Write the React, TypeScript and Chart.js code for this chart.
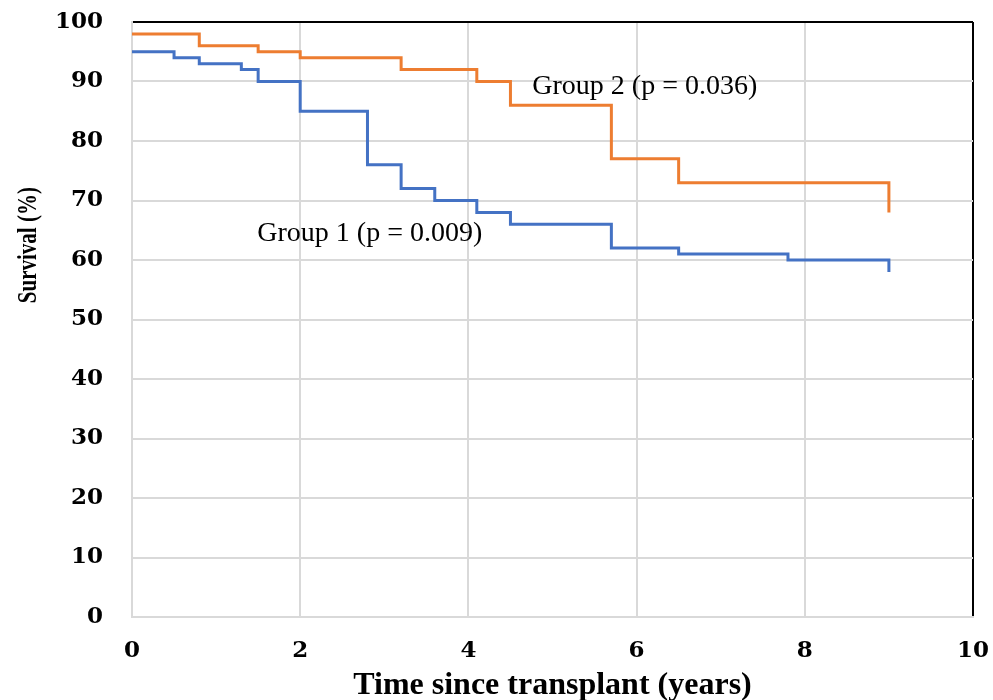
import React, { useEffect, useRef } from "react";
import { Chart, registerables } from "chart.js";

Chart.register(...registerables);

// Group 1 (blue) Kaplan-Meier steps
const group1Times = [0, 0.5, 0.8, 1.3, 1.5, 2.0, 2.8, 3.2, 3.6, 4.1, 4.5, 5.7, 6.5, 7.8, 9.0];
const group1Survival = [95, 94, 93, 92, 90, 85, 76, 72, 70, 68, 66, 62, 61, 60, 58];

// Group 2 (orange) Kaplan-Meier steps
const group2Times = [0, 0.8, 1.5, 2.0, 3.2, 4.1, 4.5, 5.7, 6.5, 9.0];
const group2Survival = [98, 96, 95, 94, 92, 90, 86, 77, 73, 68];

const seriesNames = ["Group 1", "Group 2"];
const annotationTexts = ["Group 1 (p = 0.009)", "Group 2 (p = 0.036)"];
// label anchor positions in data units [x, y]
const annotationAnchors = [
  [1.49, 64.5],
  [4.76, 89.1],
];

const xTicks = [0, 2, 4, 6, 8, 10];
const yTicks = [0, 10, 20, 30, 40, 50, 60, 70, 80, 90, 100];
const xTitle = "Time since transplant (years)";
const yTitle = "Survival (%)";

const BLUE = "#4472C4";
const ORANGE = "#ED7D31";
const GRID = "#D9D9D9";

export default function App() {
  const ref = useRef<HTMLCanvasElement | null>(null);

  useEffect(() => {
    document.body.style.margin = "0";
    document.body.style.overflow = "hidden";
    const canvas = ref.current;
    if (!canvas) return;

    const labelPlugin = {
      id: "groupLabels",
      afterDatasetsDraw(chart: any) {
        const { ctx, scales } = chart;
        ctx.save();
        ctx.fillStyle = "#000";
        ctx.font = "28px 'Liberation Serif', serif";
        ctx.textAlign = "left";
        ctx.textBaseline = "middle";
        annotationTexts.forEach((t, i) => {
          const x = scales.x.getPixelForValue(annotationAnchors[i][0]);
          const y = scales.y.getPixelForValue(annotationAnchors[i][1]);
          ctx.fillText(t, x, y);
        });
        // y-axis title (placed above the axis centre, as in the source)
        ctx.translate(29, scales.y.getPixelForValue(62.5));
        ctx.rotate(-Math.PI / 2);
        ctx.scale(1, 1.3);
        ctx.textAlign = "center";
        ctx.font = "bold 21px 'Liberation Serif', serif";
        ctx.fillText(yTitle, 0, 0);
        ctx.restore();
      },
    };

    const chart = new Chart(canvas, {
      type: "line",
      data: {
        datasets: [
          {
            label: seriesNames[0],
            data: group1Times.map((t, i) => ({ x: t, y: group1Survival[i] })),
            borderColor: BLUE,
            backgroundColor: BLUE,
            borderWidth: 3,
            pointRadius: 0,
            stepped: "before",
            fill: false,
          },
          {
            label: seriesNames[1],
            data: group2Times.map((t, i) => ({ x: t, y: group2Survival[i] })),
            borderColor: ORANGE,
            backgroundColor: ORANGE,
            borderWidth: 3,
            pointRadius: 0,
            stepped: "before",
            fill: false,
          },
        ],
      },
      options: {
        responsive: false,
        animation: false,
        layout: { padding: { top: 22, right: 20, left: 0, bottom: 0 } },
        plugins: {
          legend: { display: false },
          tooltip: { enabled: false },
        },
        scales: {
          x: {
            type: "linear",
            min: 0,
            max: 10,
            afterBuildTicks: (scale: any) => {
              scale.ticks = xTicks.map((v) => ({ value: v }));
            },
            afterFit: (scale: any) => {
              scale.height = 83;
              scale.paddingLeft = 0;
              scale.paddingRight = 0;
            },
            grid: {
              drawTicks: false,
              lineWidth: 2,
              color: (c: any) => (c.tick && c.tick.value === 10 ? "#000" : GRID),
            },
            border: { display: true, color: GRID, width: 2 },
            ticks: {
              padding: 20,
              color: "#000",
              font: { family: "'DejaVu Serif', serif", weight: "bold", size: 23 },
            },
            title: {
              display: true,
              text: xTitle,
              color: "#000",
              font: { family: "'Liberation Serif', serif", weight: "bold", size: 32, lineHeight: 1 },
              padding: { top: 0, bottom: -2 },
            },
          },
          y: {
            type: "linear",
            min: 0,
            max: 100,
            afterBuildTicks: (scale: any) => {
              scale.ticks = yTicks.map((v) => ({ value: v }));
            },
            afterFit: (scale: any) => {
              scale.width = 132;
              scale.paddingTop = 0;
              scale.paddingBottom = 0;
            },
            grid: {
              drawTicks: false,
              lineWidth: 2,
              color: (c: any) => (c.tick && c.tick.value === 100 ? "#000" : GRID),
            },
            border: { display: true, color: GRID, width: 2 },
            ticks: {
              padding: 29,
              color: "#000",
              font: { family: "'DejaVu Serif', serif", weight: "bold", size: 23 },
            },
            title: { display: false },
          },
        },
      },
      plugins: [labelPlugin],
    });

    return () => chart.destroy();
  }, []);

  return (
    <div style={{ width: 993, height: 700 }}>
      <canvas ref={ref} width={993} height={700} style={{ display: "block" }} />
    </div>
  );
}
